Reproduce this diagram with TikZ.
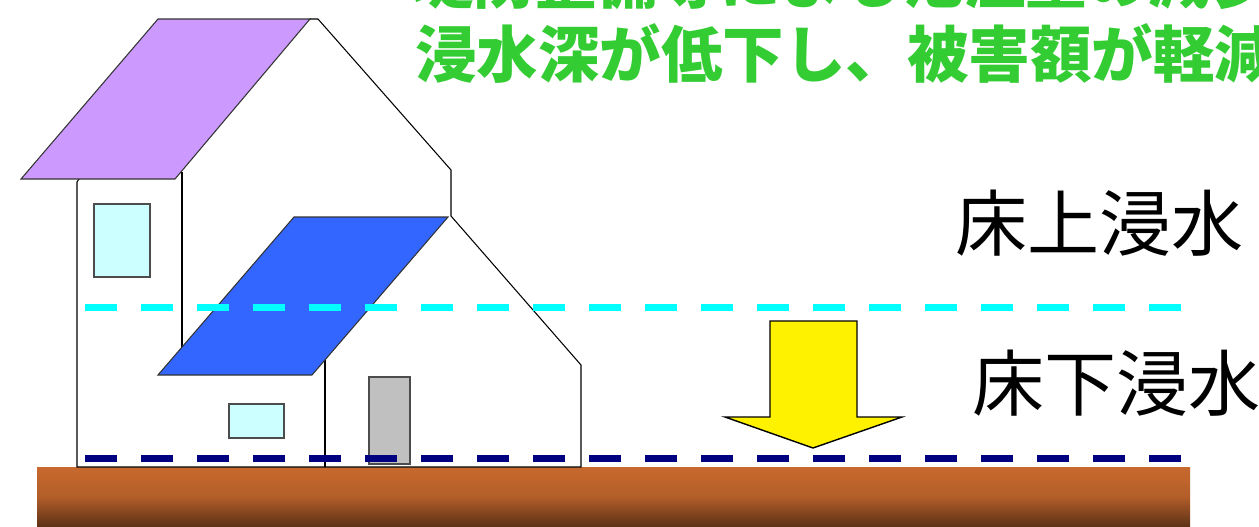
\documentclass[tikz,border=0pt]{standalone}
\usepackage{fontspec}
\newfontfamily\jpfont{Noto Sans CJK JP}

\definecolor{roofpurple}{HTML}{CC99FF}
\definecolor{roofblue}{HTML}{3366FF}
\definecolor{glass}{HTML}{CCFFFF}
\definecolor{doorgray}{HTML}{C0C0C0}
\definecolor{floodhigh}{HTML}{00FFFF}
\definecolor{floodlow}{HTML}{000080}
\definecolor{soiltop}{HTML}{C8692E}
\definecolor{soilbot}{HTML}{5E3217}
\definecolor{msggreen}{HTML}{33CC33}

\begin{document}
\begin{tikzpicture}[x=0.2mm, y=-0.2mm,
  wall/.style = {draw=black, line width=0.6pt, fill=white},
  roof/.style = {draw=black!80, line width=0.6pt},
  pane/.style = {draw=black!70, line width=0.6pt, fill=glass},
  water/.style = {line width=1.4mm, dash pattern=on 6.4mm off 4.8mm},
  level/.style = {font=\jpfont\fontsize{41}{41}\selectfont, inner sep=0pt, anchor=base west},
  msg/.style = {font=\jpfont\bfseries\fontsize{35}{35}\selectfont, text=msggreen, inner sep=0pt, anchor=base west}]

\useasboundingbox (0,0) rectangle (1259,526);
\clip (0,0) rectangle (1259,526);

% ground
\shade[top color=soiltop, bottom color=soilbot, middle color=soiltop!80!soilbot]
  (37,467) rectangle (1190,526);

% two-storey house
\draw[wall] (79,179) -- (310,19) -- (318,19) -- (451,170) -- (451,216)
  -- (581,365) -- (581,467) -- (77,467) -- (77,182) -- cycle;
\draw[line width=0.6pt] (182,172) -- (182,347);
\draw[roof, fill=roofpurple] (158,19) -- (310,19) -- (175,179) -- (21,179) -- cycle;
\draw[pane] (94,204) rectangle (150,277);

% annex
\draw[line width=0.6pt] (325,360) -- (325,467);
\draw[roof, fill=roofblue] (294,217) -- (448,217) -- (312,375) -- (158,375) -- cycle;
\draw[pane] (229,404) rectangle (284,438);
\draw[draw=black!70, line width=0.6pt, fill=doorgray] (369,377) rectangle (410,464);

% water levels
\draw[water, floodhigh] (85,307.5) -- (1181,307.5);
\draw[water, floodlow] (85,458) -- (1181,458);

% arrow
\draw[draw=black, line width=0.8pt, fill=yellow]
  (770,321) -- (857,321) -- (857,417) -- (902,417) -- (813,448)
  -- (725,417) -- (770,417) -- cycle;

% labels
\node[level] (above) at (955,250) {床上浸水};
\node[level] (below) at (972,410) {床下浸水};
\node[msg] (line1) at (412,3) {堤防整備等による氾濫量の減少};
\node[msg] (line2) at (415,77) {浸水深が低下し、被害額が軽減};

\end{tikzpicture}
\end{document}
